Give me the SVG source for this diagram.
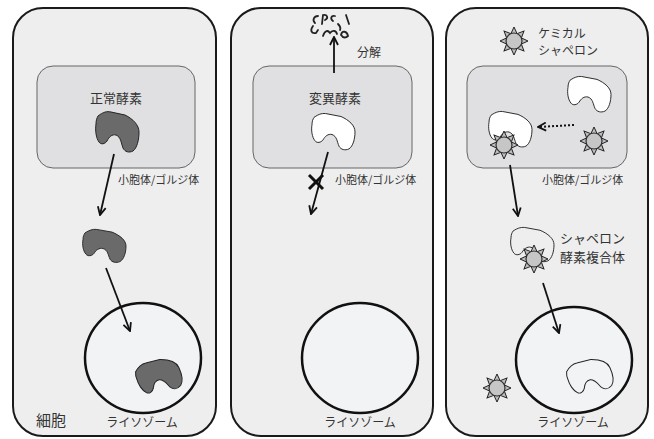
<svg xmlns="http://www.w3.org/2000/svg" xmlns:xlink="http://www.w3.org/1999/xlink" width="654" height="439" viewBox="0 0 654 439">
  <style>
    .cell { fill: #eeeeee; stroke: #1a1a1a; stroke-width: 2; }
    .er { fill: #e0e0e2; stroke: #666; stroke-width: 1; }
    .lyso { fill: #f2f3f5; stroke: #111; stroke-width: 2.5; }
    .lbl { font-family: "Noto Sans CJK JP", "Noto Sans", sans-serif; fill: #333; }
    .s11 { font-size: 11px; }
    .s12 { font-size: 12px; }
    .s13 { font-size: 13px; }
    .s15 { font-size: 15px; }
    .arrow { stroke: #111; stroke-width: 1.8; fill: none; marker-end: url(#head); }
    .dotted { stroke: #111; stroke-width: 2; fill: none; stroke-dasharray: 2 2; marker-end: url(#head); }
    .frag { stroke: #222; stroke-width: 1.8; fill: none; stroke-linecap: round; }
  </style>
  <defs>
    <marker id="head" viewBox="0 0 10 10" refX="9" refY="5" markerWidth="10" markerHeight="10" markerUnits="userSpaceOnUse" orient="auto">
      <path d="M1,1 L9,5 L1,9" stroke="#111" stroke-width="1.8" fill="none"/>
    </marker>
    <!-- enzyme outline: bounding box about 45 x 42 -->
    <path id="enzyme" d="M3,6 C8,2 12,1 16,2 L30,5 C38,9 44,15 44,22 C44,30 42,38 38,41 C34,43 30,42 28,38 C26,33 26,27 21,25 C17,24 14,27 12,31 C10,34 6,35 4,32 C1,28 0,20 1,14 C1,10 2,8 3,6 Z"/>
    <!-- chemical chaperone: disc with eight spikes -->
    <g id="chaperone">
      <g fill="#bdbdbd" stroke="#222" stroke-width="1">
        <polygon points="-3,-7.5 3,-7.5 0,-14"/>
        <polygon points="-3,-7.5 3,-7.5 0,-14" transform="rotate(45)"/>
        <polygon points="-3,-7.5 3,-7.5 0,-14" transform="rotate(90)"/>
        <polygon points="-3,-7.5 3,-7.5 0,-14" transform="rotate(135)"/>
        <polygon points="-3,-7.5 3,-7.5 0,-14" transform="rotate(180)"/>
        <polygon points="-3,-7.5 3,-7.5 0,-14" transform="rotate(225)"/>
        <polygon points="-3,-7.5 3,-7.5 0,-14" transform="rotate(270)"/>
        <polygon points="-3,-7.5 3,-7.5 0,-14" transform="rotate(315)"/>
      </g>
      <circle r="8" fill="#c6c6c6" stroke="#333" stroke-width="1.2"/>
    </g>
  </defs>

  <!-- left cell: normal enzyme -->
  <g id="cell-normal">
    <rect class="cell" x="13" y="8" width="203" height="428" rx="30"/>
    <rect class="er" x="37" y="66" width="158" height="102" rx="16"/>
    <text class="lbl s13" x="116" y="103" text-anchor="middle">正常酵素</text>
    <use xlink:href="#enzyme" fill="#6a6a6a" stroke="#222" stroke-width="1" transform="translate(95,110)"/>
    <text class="lbl s11" x="118" y="184">小胞体/ゴルジ体</text>
    <use xlink:href="#enzyme" fill="#6a6a6a" stroke="#222" stroke-width="1" transform="translate(82,228) scale(1,0.82)"/>
    <ellipse class="lyso" cx="143" cy="358" rx="58" ry="55"/>
    <use xlink:href="#enzyme" fill="#6a6a6a" stroke="#222" stroke-width="1" transform="translate(159,377) rotate(-25) translate(-22,-20) scale(1,0.9)"/>
    <text class="lbl s15" x="36" y="426">細胞</text>
    <text class="lbl s12" x="142" y="427" text-anchor="middle">ライソゾーム</text>
  </g>

  <!-- middle cell: mutant enzyme -->
  <g id="cell-mutant">
    <rect class="cell" x="231" y="8" width="202" height="428" rx="30"/>
    <rect class="er" x="253" y="66" width="159" height="102" rx="16"/>
    <text class="lbl s13" x="335" y="103" text-anchor="middle">変異酵素</text>
    <use xlink:href="#enzyme" fill="#ffffff" stroke="#222" stroke-width="1" transform="translate(311,112) scale(1,0.9)"/>
    <text class="lbl s11" x="335" y="184">小胞体/ゴルジ体</text>
    <text class="lbl s12" x="357" y="57">分解</text>
    <g id="fragments">
      <path class="frag" d="M318,16 C314,16 312,20 315,23"/>
      <path class="frag" d="M322,24 L323,15 C327,14 329,18 325,20"/>
      <path class="frag" d="M346,15 L349,24"/>
      <path class="frag" d="M335,16 C331,15 330,19 333,21"/>
      <path class="frag" d="M313,26 C310,30 311,34 316,33 L318,30"/>
      <path class="frag" d="M323,36 C325,30 328,30 330,33 C332,30 336,30 337,34"/>
      <path class="frag" d="M341,35 C342,30 347,31 348,36 C346,38 343,38 342,36"/>
      <path class="frag" d="M338,24 C340,26 341,28 340,30"/>
    </g>
    <ellipse class="lyso" cx="360" cy="358" rx="58" ry="55"/>
    <text class="lbl s12" x="360" y="427" text-anchor="middle">ライソゾーム</text>
  </g>

  <!-- right cell: chemical chaperone -->
  <g id="cell-chaperone">
    <rect class="cell" x="446" y="8" width="202" height="428" rx="30"/>
    <rect class="er" x="467" y="66" width="160" height="102" rx="16"/>
    <use xlink:href="#chaperone" transform="translate(514,41)"/>
    <text class="lbl s12" x="538" y="38">ケミカル</text>
    <text class="lbl s12" x="538" y="55">シャペロン</text>
    <use xlink:href="#enzyme" fill="#ffffff" stroke="#222" stroke-width="1" transform="translate(567,75) scale(1,0.88)"/>
    <use xlink:href="#chaperone" transform="translate(594,141)"/>
    <use xlink:href="#enzyme" fill="#ffffff" stroke="#222" stroke-width="1" transform="translate(488,110) scale(1,0.88)"/>
    <use xlink:href="#chaperone" transform="translate(504,145)"/>
    <text class="lbl s11" x="542" y="184">小胞体/ゴルジ体</text>
    <use xlink:href="#enzyme" fill="#eeeeee" stroke="#222" stroke-width="1" transform="translate(510,226) scale(1,0.85)"/>
    <use xlink:href="#chaperone" transform="translate(534,259)"/>
    <text class="lbl s13" x="560" y="243">シャペロン</text>
    <text class="lbl s13" x="560" y="262">酵素複合体</text>
    <ellipse class="lyso" cx="574" cy="360" rx="58" ry="53"/>
    <use xlink:href="#enzyme" fill="#f2f3f5" stroke="#222" stroke-width="1" transform="translate(590,377) rotate(-25) translate(-22,-20) scale(1,0.9)"/>
    <use xlink:href="#chaperone" transform="translate(497,388)"/>
    <text class="lbl s12" x="573" y="427" text-anchor="middle">ライソゾーム</text>
  </g>

  <!-- transport and degradation arrows -->
  <g id="connectors">
    <line class="arrow" x1="114" y1="154" x2="100" y2="215"/>
    <line class="arrow" x1="106" y1="268" x2="130" y2="331"/>
    <line class="arrow" x1="334" y1="73" x2="334" y2="37"/>
    <line class="arrow" x1="328" y1="152" x2="311" y2="214"/>
    <g stroke="#111" stroke-width="3" stroke-linecap="butt">
      <line x1="309" y1="175" x2="323" y2="189"/>
      <line x1="323" y1="175" x2="309" y2="189"/>
    </g>
    <line class="dotted" x1="574" y1="125" x2="538" y2="127"/>
    <line class="arrow" x1="510" y1="165" x2="518" y2="216"/>
    <line class="arrow" x1="543" y1="283" x2="559" y2="333"/>
  </g>
</svg>
